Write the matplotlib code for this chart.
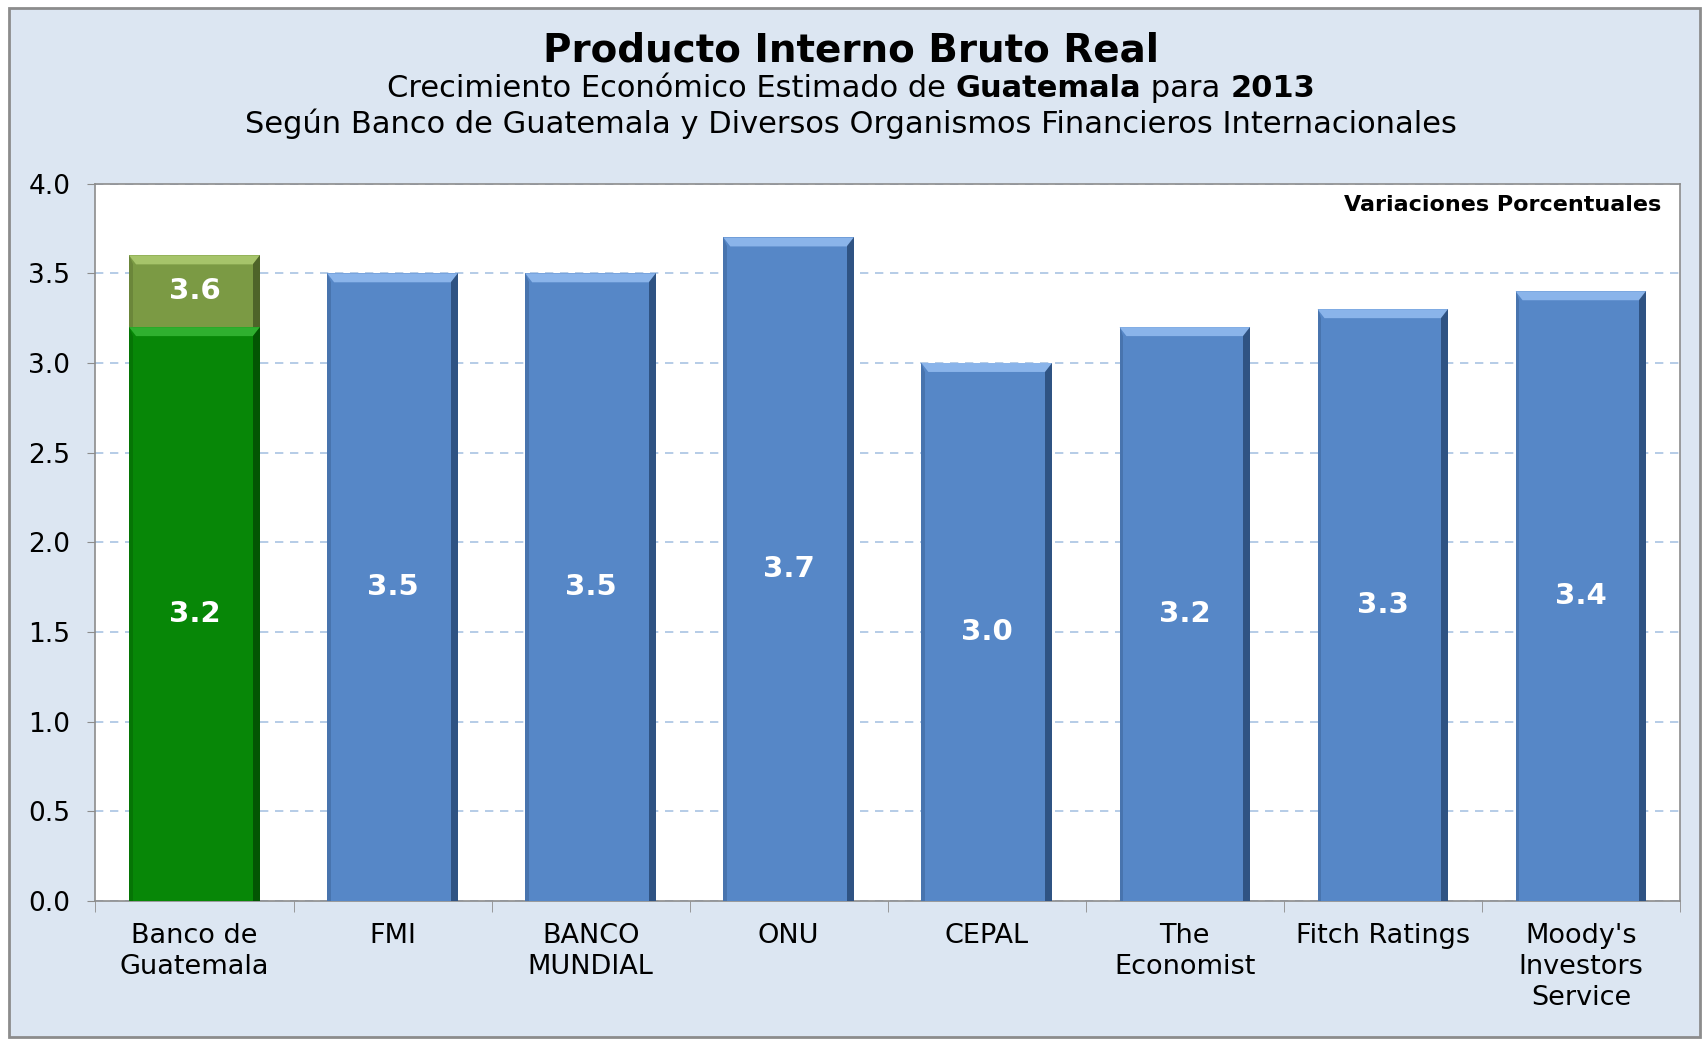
import numpy as np
import matplotlib.pyplot as plt
from matplotlib.patches import Rectangle, Polygon

categorias = ["Banco de\nGuatemala", "FMI", "BANCO\nMUNDIAL", "ONU", "CEPAL",
              "The\nEconomist", "Fitch Ratings", "Moody's\nInvestors\nService"]
valores = [3.2, 3.5, 3.5, 3.7, 3.0, 3.2, 3.3, 3.4]
banguat_rango_sup = 3.6   # tope del rango del Banco de Guatemala
yticks = [0.0, 0.5, 1.0, 1.5, 2.0, 2.5, 3.0, 3.5, 4.0]

azul = "#5687c7"
verde = "#078707"
olivo = "#7b9a44"
fondo = "#dce6f2"

fig = plt.figure(figsize=(17.02, 10.58), dpi=100)
fig.patch.set_facecolor("white")
marco = Rectangle((0.005, 0.02), 0.994, 0.972, transform=fig.transFigure,
                  facecolor=fondo, edgecolor="#8c8c8c", lw=2, zorder=-1)
fig.add_artist(marco)

ax = fig.add_axes([0.0561, 0.1484, 0.931, 0.678])
ax.set_facecolor("white")
ax.set_xlim(-0.5, len(valores) - 0.5)
ax.set_ylim(0, 4.0)

ancho = 0.66


def barra(x, y0, y1, color, claro, oscuro):
    ax.bar(x, y1 - y0, bottom=y0, width=ancho, color=color, edgecolor="none", zorder=3)
    l, r = x - ancho / 2, x + ancho / 2
    bx, by = 0.035, 0.05
    # bisel superior (claro) y lateral derecho (oscuro)
    ax.add_patch(Polygon([(l, y1), (r, y1), (r - bx, y1 - by), (l + bx, y1 - by)],
                         closed=True, facecolor=claro, edgecolor="none", zorder=4))
    ax.add_patch(Polygon([(r, y1), (r, y0), (r - bx, y0), (r - bx, y1 - by)],
                         closed=True, facecolor=oscuro, edgecolor="none", alpha=0.7, zorder=4))
    ax.add_patch(Polygon([(l, y1), (l, y0), (l + bx * 0.5, y0), (l + bx * 0.5, y1 - by)],
                         closed=True, facecolor=oscuro, edgecolor="none", alpha=0.25, zorder=4))


for i, v in enumerate(valores):
    if i == 0:
        barra(i, 0, v, verde, "#2fb02f", "#024002")
        barra(i, v, banguat_rango_sup, olivo, "#a6c46a", "#3c4d1e")
        ax.text(i, v / 2, f"{v:.1f}", ha="center", va="center", color="white",
                fontsize=21, fontweight="bold", zorder=5)
        ax.text(i, (v + banguat_rango_sup) / 2, f"{banguat_rango_sup:.1f}", ha="center",
                va="center", color="white", fontsize=21, fontweight="bold", zorder=5)
    else:
        barra(i, 0, v, azul, "#8ab4ea", "#1f3d66")
        ax.text(i, v / 2, f"{v:.1f}", ha="center", va="center", color="white",
                fontsize=21, fontweight="bold", zorder=5)

ax.set_yticks(yticks)
ax.set_yticklabels([f"{t:.1f}" for t in yticks], fontsize=19)
ax.yaxis.grid(True, linestyle=(0, (5, 4)), color="#a9c3e3", lw=1.2, zorder=1)
ax.set_axisbelow(True)

ax.set_xticks(range(len(categorias)))
ax.set_xticklabels(categorias, fontsize=19.5, linespacing=1.25)
ax.tick_params(axis="x", length=0, pad=16)
ax.set_xticks(np.arange(-0.5, len(categorias) + 0.5, 1), minor=True)
ax.tick_params(axis="x", which="minor", length=8, color="#8c8c8c")
ax.tick_params(axis="y", length=6, color="#8c8c8c", direction="out", pad=12)
for s in ax.spines.values():
    s.set_color("#8c8c8c")
    s.set_linewidth(1.2)

ax.text(0.988, 0.97, "Variaciones Porcentuales", transform=ax.transAxes, ha="right",
        va="center", fontsize=16, fontweight="bold")

fig.text(0.5, 0.952, "Producto Interno Bruto Real", ha="center", va="center",
         fontsize=28, fontweight="bold")

# linea con partes en negrita
partes = [("Crecimiento Económico Estimado de ", "normal"), ("Guatemala", "bold"),
          (" para ", "normal"), ("2013", "bold")]
fig.canvas.draw()
rend = fig.canvas.get_renderer()
textos = [fig.text(0, 0.916, t, fontsize=22, fontweight=w, va="center") for t, w in partes]
anchos = [t.get_window_extent(rend).width / fig.bbox.width for t in textos]
x0 = 0.5 - sum(anchos) / 2
for t, w in zip(textos, anchos):
    t.set_x(x0)
    x0 += w

fig.text(0.5, 0.883, "Según Banco de Guatemala y Diversos Organismos Financieros Internacionales",
         ha="center", va="center", fontsize=22)

fig.savefig("out.png", dpi=100)
